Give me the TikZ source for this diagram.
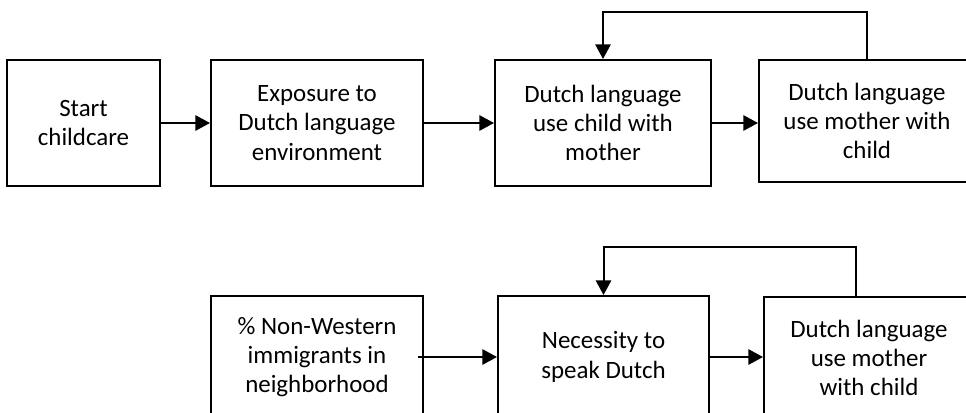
\documentclass[tikz,border=0pt]{standalone}
\usepackage{fontspec}
\setmainfont{Carlito}
\usetikzlibrary{arrows.meta, positioning, calc}

\begin{document}
\begin{tikzpicture}[
  x=0.75pt, y=-0.75pt,
  block/.style={rectangle, draw, line width=1.5pt, minimum height=94.5pt,
                align=center, inner sep=0pt, font=\fontsize{18.7}{22}\selectfont},
  arrow/.style={-{Triangle[length=11pt, width=11.5pt]}, line width=1.5pt},
]
  \useasboundingbox (0,0) rectangle (966,413);
  \clip (0,0) rectangle (966,413);

  % Upper chain
  \node[block, minimum width=114.75pt] (start)    at (83.5, 123) {Start\\childcare};
  \node[block, minimum width=159pt]    (expo)     at (317, 123)  {Exposure to\\Dutch language\\environment};
  \node[block, minimum width=162pt]    (usechild) at (603, 123)  {Dutch language\\use child with\\mother};
  \node[block, minimum width=162pt, minimum height=91.5pt]
                                       (usemother) at (867, 121) {Dutch language\\use mother with\\child};

  % Lower chain
  \node[block, minimum width=159pt, minimum height=91.5pt]
                                       (pct)      at (317, 357)  {\%~Non-Western\\immigrants in\\neighborhood};
  \node[block, minimum width=158.25pt, minimum height=91.5pt]
                                       (need)     at (603.5, 357) {Necessity to\\speak Dutch};
  \node[block, minimum width=157.5pt, minimum height=91.5pt]
                                       (usemother2) at (869, 358) {Dutch language\\use mother\\with child};

  % Arrows
  \draw[arrow] (start) -- (expo);
  \draw[arrow] (expo) -- (usechild);
  \draw[arrow] (usechild.east) -- (usechild.east -| usemother.west);
  \draw[arrow] (usemother.north) -- ++(0,-47) -| (usechild.north);

  \draw[arrow] ([xshift=-4.5pt]pct.east) -- (need);
  \draw[arrow] (need.east) -- (need.east -| usemother2.west);
  \draw[arrow] ([xshift=-9.75pt]usemother2.north) -- ++(0,-49) -| (need.north);
\end{tikzpicture}
\end{document}
